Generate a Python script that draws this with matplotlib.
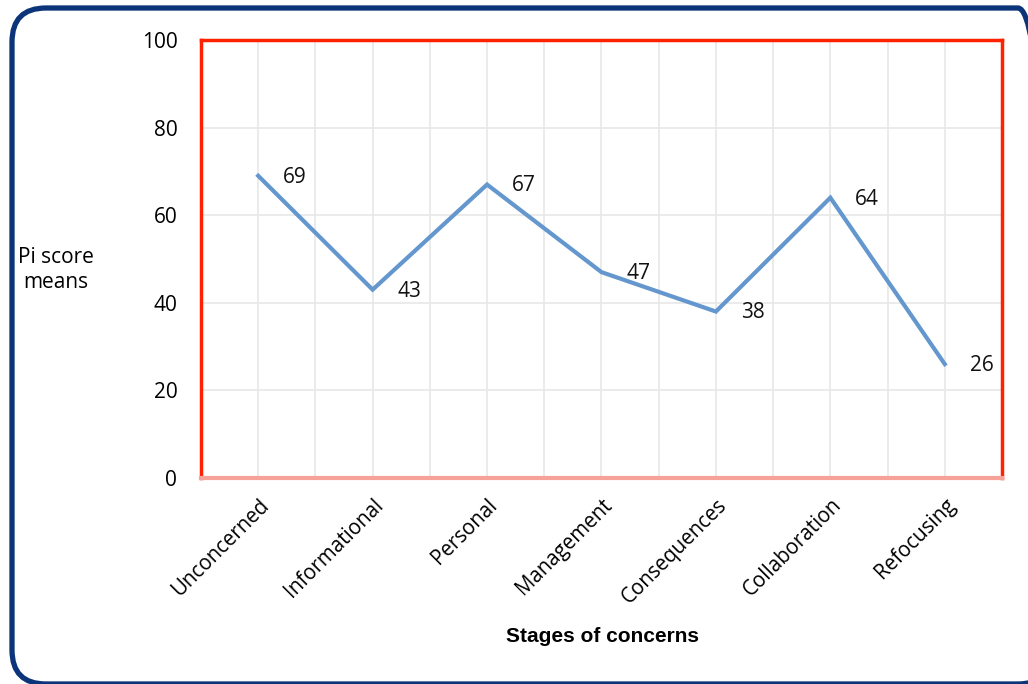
import numpy as np
import matplotlib.pyplot as plt
from matplotlib.patches import FancyBboxPatch
from matplotlib.transforms import IdentityTransform

stages = ["Unconcerned", "Informational", "Personal", "Management",
          "Consequences", "Collaboration", "Refocusing"]
pi_means = [69, 43, 67, 47, 38, 64, 26]
yticks = [0, 20, 40, 60, 80, 100]

plt.rcParams['font.family'] = ['Open Sans', 'DejaVu Sans']

fig = plt.figure(figsize=(10.28, 6.84), dpi=100)
ax = fig.add_axes([0.1955, 0.3012, 0.7792, 0.6403])

x = np.arange(len(stages))
ax.plot(x, pi_means, color='#6497CD', lw=3, solid_joinstyle='miter', zorder=3)

# value labels to the right of each point
for xi, v in zip(x, pi_means):
    ax.annotate(str(v), (xi, v), xytext=(18, -1), textcoords='offset points',
                ha='left', va='center', fontsize=15, color='#111111')

ax.set_xlim(-0.5, len(stages) - 0.5)
ax.set_ylim(0, 100)
ax.set_yticks(yticks)
ax.set_yticklabels([str(t) for t in yticks], fontsize=15)
ax.set_xticks(x)
ax.set_xticklabels(stages, rotation=45, ha='right', rotation_mode='anchor',
                   fontsize=14.8)
ax.set_xticks(np.arange(len(stages) + 1) - 0.5, minor=True)
ax.tick_params(length=0, which='both')
ax.tick_params(axis='y', pad=17)
ax.tick_params(axis='x', pad=12)

ax.grid(True, which='major', color='#e8e8e8', lw=1.2, zorder=0)
ax.grid(True, which='minor', axis='x', color='#e8e8e8', lw=1.2, zorder=0)

for s in ['left', 'right', 'top']:
    ax.spines[s].set_color('#FF2200')
    ax.spines[s].set_linewidth(2.5)
ax.spines['bottom'].set_color('#F6A299')
ax.spines['bottom'].set_linewidth(3)

fig.text(56 / 1028, 1 - 270 / 684, "Pi score\nmeans", ha='center', va='center',
         fontsize=15, linespacing=1.2)
fig.text(602 / 1028, 1 - 636 / 684, "Stages of concerns", ha='center',
         va='center', fontsize=15, fontweight='bold', family='Liberation Sans')

# rounded frame around the chart
frame = FancyBboxPatch((12, 0), 1040, 676, boxstyle="round,pad=0,rounding_size=34",
                       transform=IdentityTransform(), fill=False,
                       edgecolor='#0B3578', lw=3.8, zorder=10)
fig.patches.append(frame)

fig.savefig("out.png", dpi=100)
